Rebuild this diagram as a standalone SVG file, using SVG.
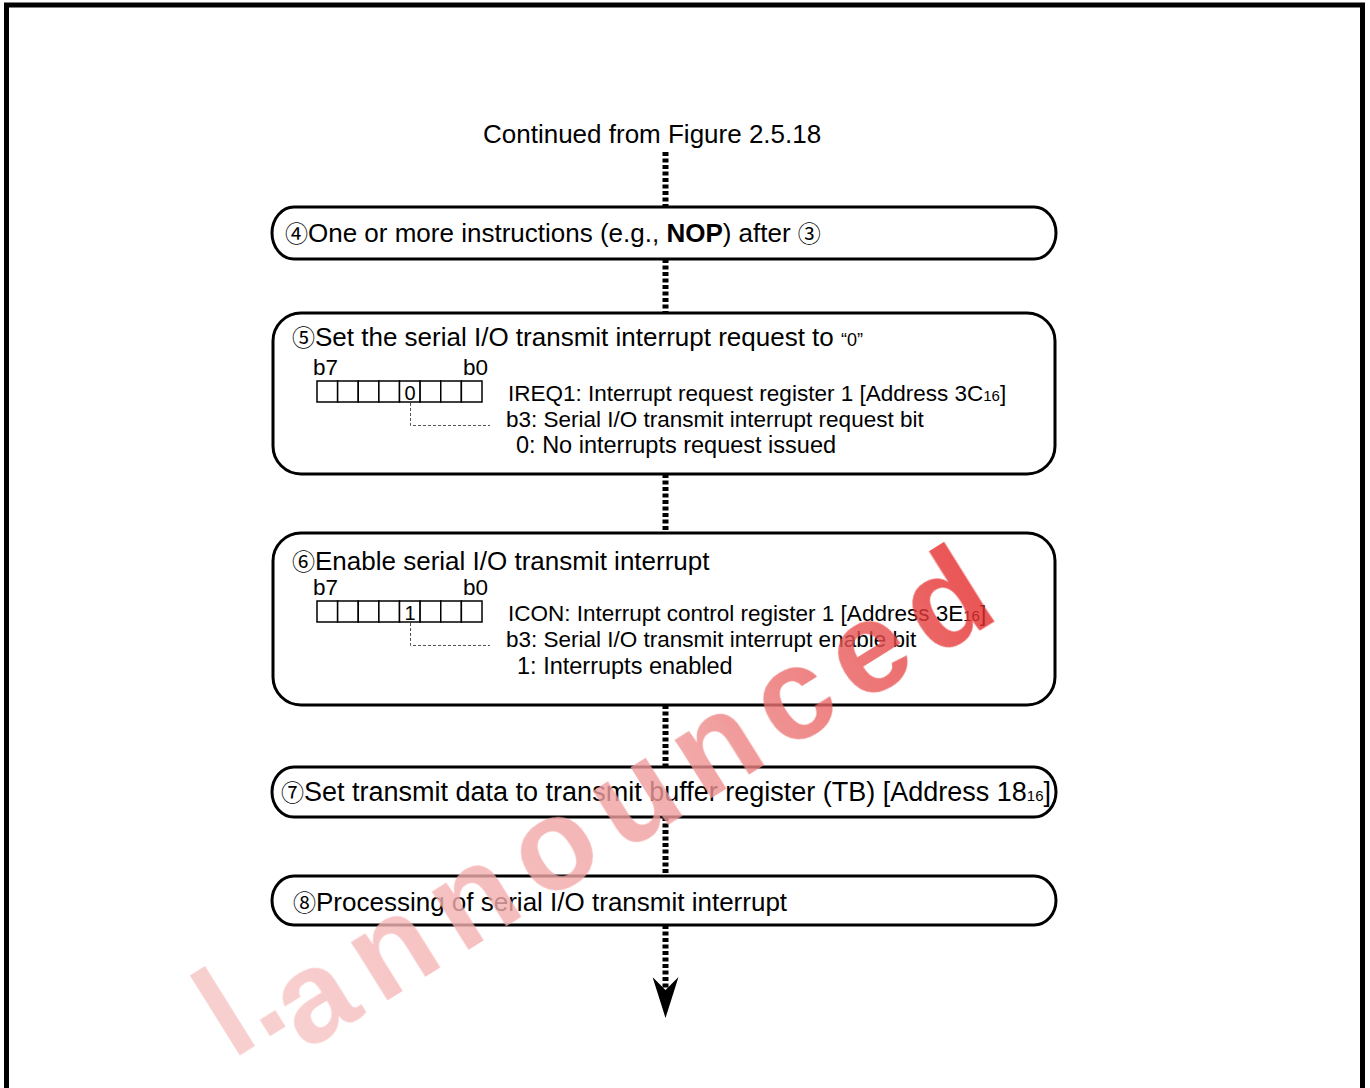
<svg xmlns="http://www.w3.org/2000/svg" width="1370" height="1088" viewBox="0 0 1370 1088">
<style>
.t{font-family:"Liberation Sans",Arial,sans-serif;fill:#000}
.title{font-size:26px}
.reg{font-size:22.5px}
.reg2{font-size:23.5px}
.circ{font-family:"Noto Sans CJK JP","DejaVu Sans",sans-serif;font-size:23px}
.sub{font-size:15px}
.q{font-size:18px}
.box{fill:#fff;stroke:#000;stroke-width:3}
.cell{fill:#fff;stroke:#000;stroke-width:1.5}
.lead{fill:none;stroke:#555;stroke-width:1;stroke-dasharray:3 2}
.flow{fill:none;stroke:#000;stroke-width:6;stroke-dasharray:4 2.5}
.wm{font-family:"Liberation Sans",Arial,sans-serif;font-weight:bold;font-size:130px}
</style>
<defs>
<marker id="arrow" markerUnits="userSpaceOnUse" viewBox="0 -13 41 26" refX="13" refY="0" markerWidth="41" markerHeight="26" orient="auto">
<path d="M0,-13 L41,0 L0,13 L13,0 Z" fill="#000"/>
</marker>
<linearGradient id="wmg" x1="0" y1="0" x2="1" y2="0">
<stop offset="0" stop-color="#f7c4c4"/>
<stop offset="0.55" stop-color="#f09a9a"/>
<stop offset="1" stop-color="#e42424"/>
</linearGradient>
</defs>
<rect width="1370" height="1088" fill="#fff"/>
<path d="M6.5,1088 V5 H1362.5 V1088" fill="none" stroke="#000" stroke-width="5"/>

<text class="t title" x="483" y="143">Continued from Figure 2.5.18</text>

<g id="connectors">
<path class="flow" d="M665.5,152 V207"/>
<path class="flow" d="M665.5,259 V313"/>
<path class="flow" d="M665.5,474 V533"/>
<path class="flow" d="M665.5,705 V767"/>
<path class="flow" d="M665.5,817 V876"/>
<path class="flow" d="M665.5,925 V990" marker-end="url(#arrow)"/>
</g>

<g id="step4">
<rect class="box" x="272" y="207" width="784" height="52" rx="22" ry="26"/>
<text class="t title" x="285" y="242"><tspan class="circ">④</tspan>One or more instructions (e.g., <tspan font-weight="bold">NOP</tspan>) after <tspan class="circ">③</tspan></text>
</g>

<g id="step5">
<rect class="box" x="273" y="313" width="782" height="161" rx="28" ry="28"/>
<text class="t title" x="292" y="346"><tspan class="circ">⑤</tspan>Set the serial I/O transmit interrupt request to <tspan class="q">“0”</tspan></text>
<text class="t reg" x="313" y="375">b7</text>
<text class="t reg" x="463" y="375">b0</text>
<g>
<rect class="cell" x="317" y="381" width="20.625" height="21"/>
<rect class="cell" x="337.625" y="381" width="20.625" height="21"/>
<rect class="cell" x="358.25" y="381" width="20.625" height="21"/>
<rect class="cell" x="378.875" y="381" width="20.625" height="21"/>
<rect class="cell" x="399.5" y="381" width="20.625" height="21"/>
<rect class="cell" x="420.125" y="381" width="20.625" height="21"/>
<rect class="cell" x="440.75" y="381" width="20.625" height="21"/>
<rect class="cell" x="461.375" y="381" width="20.625" height="21"/>
</g>
<text class="t" x="410" y="400" font-size="20" text-anchor="middle">0</text>
<path class="lead" d="M410.5,403 V425.5 H490"/>
<text class="t reg" x="508" y="401">IREQ1: Interrupt request register 1 [Address 3C<tspan class="sub">16</tspan>]</text>
<text class="t reg" x="506" y="427">b3: Serial I/O transmit interrupt request bit</text>
<text class="t reg2" x="516" y="453">0: No interrupts request issued</text>
</g>

<g id="step6">
<rect class="box" x="273" y="533" width="782" height="172" rx="28" ry="28"/>
<text class="t title" x="292" y="570"><tspan class="circ">⑥</tspan>Enable serial I/O transmit interrupt</text>
<text class="t reg" x="313" y="595">b7</text>
<text class="t reg" x="463" y="595">b0</text>
<g>
<rect class="cell" x="317" y="601" width="20.625" height="21"/>
<rect class="cell" x="337.625" y="601" width="20.625" height="21"/>
<rect class="cell" x="358.25" y="601" width="20.625" height="21"/>
<rect class="cell" x="378.875" y="601" width="20.625" height="21"/>
<rect class="cell" x="399.5" y="601" width="20.625" height="21"/>
<rect class="cell" x="420.125" y="601" width="20.625" height="21"/>
<rect class="cell" x="440.75" y="601" width="20.625" height="21"/>
<rect class="cell" x="461.375" y="601" width="20.625" height="21"/>
</g>
<text class="t" x="410" y="620" font-size="20" text-anchor="middle">1</text>
<path class="lead" d="M410.5,623 V645.5 H490"/>
<text class="t reg" x="508" y="621">ICON: Interrupt control register 1 [Address 3E<tspan class="sub">16</tspan>]</text>
<text class="t reg" x="506" y="647">b3: Serial I/O transmit interrupt enable bit</text>
<text class="t reg2" x="517" y="674">1: Interrupts enabled</text>
</g>

<g id="step7">
<rect class="box" x="272" y="767" width="784" height="50" rx="22" ry="25"/>
<text class="t" font-size="27" x="281" y="801" textLength="770" lengthAdjust="spacingAndGlyphs"><tspan class="circ">⑦</tspan>Set transmit data to transmit buffer register (TB) [Address 18<tspan class="sub">16</tspan>]</text>
</g>

<g id="step8">
<rect class="box" x="272" y="876" width="784" height="49" rx="22" ry="24.5"/>
<text class="t title" x="293" y="911"><tspan class="circ">⑧</tspan>Processing of serial I/O transmit interrupt</text>
</g>

<g id="watermark" opacity="0.8">
<text class="wm" fill="#f7c4c4" transform="translate(232,1060) rotate(-32)">l.</text>
<text class="wm" fill="url(#wmg)" letter-spacing="16" transform="translate(305,1052) rotate(-32)">announced</text>
</g>
</svg>
